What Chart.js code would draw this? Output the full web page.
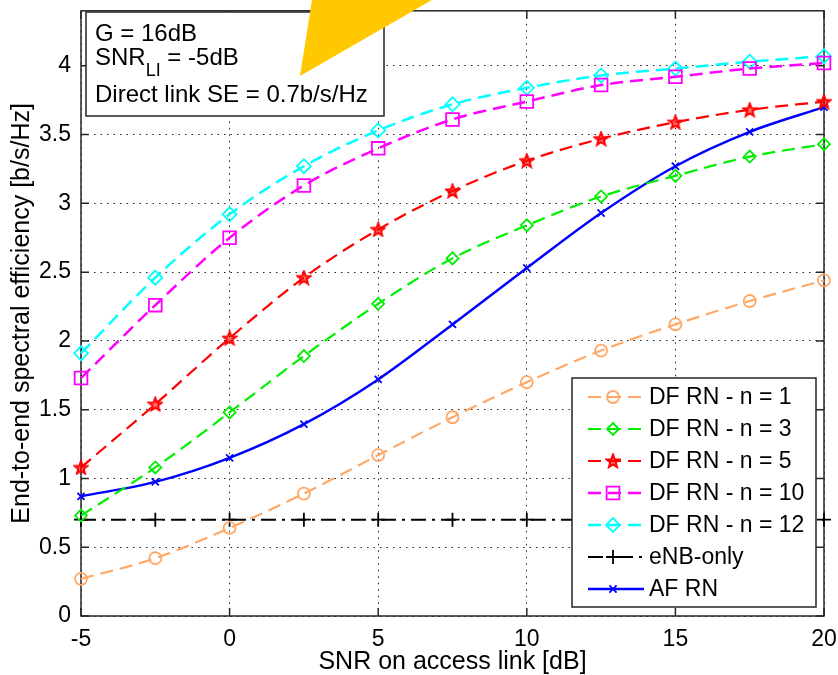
<!DOCTYPE html>
<html>
<head>
<meta charset="utf-8">
<script src="https://cdn.jsdelivr.net/npm/chart.js@4.4.0/dist/chart.umd.min.js"></script>
<style>
  html, body { margin: 0; padding: 0; background: #fff; }
  #wrap { width: 838px; height: 675px; }
</style>
</head>
<body>
<div id="wrap"><canvas id="se-chart" width="838" height="675"></canvas></div>
<script>
// SNR on access link [dB]
const snrAccess = [-5, -2.5, 0, 2.5, 5, 7.5, 10, 12.5, 15, 17.5, 20];

// end-to-end spectral efficiency [b/s/Hz]
const dfN1  = [0.27, 0.42, 0.64, 0.89, 1.17, 1.445, 1.70, 1.93, 2.12, 2.29, 2.44];
const dfN3  = [0.73, 1.08, 1.48, 1.89, 2.27, 2.60, 2.84, 3.05, 3.20, 3.34, 3.43];
const dfN5  = [1.08, 1.54, 2.02, 2.46, 2.81, 3.09, 3.31, 3.47, 3.59, 3.68, 3.74];
const dfN10 = [1.73, 2.26, 2.75, 3.13, 3.40, 3.61, 3.74, 3.86, 3.92, 3.98, 4.02];
const dfN12 = [1.91, 2.46, 2.92, 3.27, 3.53, 3.72, 3.84, 3.93, 3.98, 4.03, 4.07];
const enbOnly = [0.7, 0.7, 0.7, 0.7, 0.7, 0.7, 0.7, 0.7, 0.7, 0.7, 0.7];
const afRn  = [0.87, 0.975, 1.15, 1.395, 1.72, 2.12, 2.53, 2.93, 3.27, 3.52, 3.70];

const xTicks = [-5, 0, 5, 10, 15, 20];
const annotationLines = ['G = 16dB', 'SNR', 'Direct link SE = 0.7b/s/Hz'];

const FONT = '"Liberation Sans", Arial, sans-serif';

// pentagram marker (Chart.js has no 5-point star)
function makeStar(size, color) {
  const c = document.createElement('canvas');
  c.width = size; c.height = size;
  const g = c.getContext('2d');
  const cx = size / 2, cy = size / 2 + 0.5, R = size / 2 - 1.2, r = R * 0.42;
  g.beginPath();
  for (let i = 0; i < 10; i++) {
    const ang = -Math.PI / 2 + i * Math.PI / 5;
    const rad = i % 2 === 0 ? R : r;
    g.lineTo(cx + rad * Math.cos(ang), cy + rad * Math.sin(ang));
  }
  g.closePath();
  g.fillStyle = 'rgba(255,0,0,0.55)';
  g.fill();
  g.strokeStyle = color; g.lineWidth = 2; g.stroke();
  return c;
}

const pts = arr => arr.map((v, i) => ({ x: snrAccess[i], y: v }));

const DASH = [13, 7];

function series(label, data, color, style, radius, width, dash) {
  return {
    label: label,
    data: pts(data),
    borderColor: color,
    backgroundColor: color,
    borderWidth: width,
    borderDash: dash,
    pointStyle: style,
    pointRadius: radius,
    pointBorderColor: color,
    pointBackgroundColor: 'rgba(0,0,0,0)',
    pointBorderWidth: 1.8,
    cubicInterpolationMode: 'monotone',
    clip: false
  };
}

const datasets = [
  series('DF RN - n = 1', dfN1, '#FFA866', 'circle', 6, 2.2, DASH),
  series('DF RN - n = 3', dfN3, '#00EE00', 'rectRot', 6, 2.2, DASH),
  series('DF RN - n = 5', dfN5, '#FF0000', makeStar(16, '#FF0000'), 8, 2.2, DASH),
  series('DF RN - n = 10', dfN10, '#FF00FF', 'rect', 9, 2.5, DASH),
  series('DF RN - n = 12', dfN12, '#00FFFF', 'rectRot', 7, 2.5, DASH),
  series('eNB-only', enbOnly, '#000000', 'cross', 7, 2, [15, 6, 3, 6]),
  series('AF RN', afRn, '#0000FF', 'crossRot', 5, 2.5, [])
];

const framePlugin = {
  id: 'frame',
  beforeDatasetsDraw(chart) {
    const { ctx, chartArea: a, scales: { x, y } } = chart;
    const tl = 8;
    ctx.save();
    ctx.strokeStyle = '#262626';
    ctx.lineWidth = 1.5;
    ctx.strokeRect(a.left, a.top, a.right - a.left, a.bottom - a.top);
    ctx.beginPath();
    x.ticks.forEach(t => {
      const px = x.getPixelForValue(t.value);
      ctx.moveTo(px, a.bottom); ctx.lineTo(px, a.bottom - tl);
      ctx.moveTo(px, a.top); ctx.lineTo(px, a.top + tl);
    });
    y.ticks.forEach(t => {
      const py = y.getPixelForValue(t.value);
      ctx.moveTo(a.left, py); ctx.lineTo(a.left + tl, py);
      ctx.moveTo(a.right, py); ctx.lineTo(a.right - tl, py);
    });
    ctx.stroke();
    ctx.restore();
  }
};

const overlayPlugin = {
  id: 'overlay',
  afterDraw(chart) {
    const { ctx, chartArea: a } = chart;
    ctx.save();
    ctx.fillStyle = '#000';

    // axis titles
    ctx.font = '25px ' + FONT;
    ctx.textAlign = 'center';
    ctx.textBaseline = 'alphabetic';
    ctx.fillText('SNR on access link [dB]', (a.left + a.right) / 2, 669);
    ctx.save();
    ctx.translate(29, (a.top + a.bottom) / 2);
    ctx.rotate(-Math.PI / 2);
    ctx.fillText('End-to-end spectral efficiency [b/s/Hz]', 0, 0);
    ctx.restore();

    // parameter box
    ctx.fillStyle = '#fff';
    ctx.fillRect(86, 12, 298, 104);
    ctx.strokeStyle = '#262626';
    ctx.lineWidth = 1.5;
    ctx.strokeRect(86, 12, 298, 104);
    ctx.fillStyle = '#000';
    ctx.textAlign = 'left';
    ctx.font = '24px ' + FONT;
    ctx.fillText(annotationLines[0], 95, 41);
    ctx.fillText(annotationLines[1], 95, 65);
    const w = ctx.measureText(annotationLines[1]).width;
    ctx.font = '18px ' + FONT;
    ctx.fillText('LI', 95 + w, 76);
    const w2 = ctx.measureText('LI').width;
    ctx.font = '24px ' + FONT;
    ctx.fillText(' = -5dB', 95 + w + w2, 65);
    ctx.fillText(annotationLines[2], 95, 102);

    // legend
    const lx = 572, ly = 378, lw = 244, lh = 229;
    ctx.fillStyle = '#fff';
    ctx.fillRect(lx, ly, lw, lh);
    ctx.strokeRect(lx, ly, lw, lh);
    const rowY = [397, 429, 461, 493, 525, 557, 589];
    chart.data.datasets.forEach((ds, i) => {
      const yy = rowY[i];
      ctx.save();
      ctx.strokeStyle = ds.borderColor;
      ctx.lineWidth = ds.borderWidth;
      ctx.setLineDash(ds.borderDash);
      ctx.beginPath();
      ctx.moveTo(588, yy); ctx.lineTo(644, yy);
      ctx.stroke();
      ctx.setLineDash([]);
      ctx.fillStyle = 'rgba(0,0,0,0)';
      ctx.lineWidth = ds.pointBorderWidth;
      Chart.helpers.drawPoint(ctx, {
        pointStyle: ds.pointStyle, radius: ds.pointRadius, rotation: 0,
        borderWidth: ds.pointBorderWidth
      }, 613, yy);
      ctx.restore();
      ctx.fillStyle = '#000';
      ctx.font = '23px ' + FONT;
      ctx.textBaseline = 'middle';
      ctx.fillText(ds.label, 649, yy + 1);
    });

    // yellow wedge at the top
    ctx.fillStyle = '#FFC800';
    ctx.beginPath();
    ctx.moveTo(312, 0); ctx.lineTo(432, 0); ctx.lineTo(300, 76);
    ctx.closePath();
    ctx.fill();
    ctx.restore();
  }
};

new Chart(document.getElementById('se-chart'), {
  type: 'line',
  data: { datasets: datasets },
  options: {
    responsive: false,
    animation: false,
    devicePixelRatio: 1,
    layout: { padding: { left: 0, right: 14, top: 8, bottom: 0 } },
    plugins: { legend: { display: false }, tooltip: { enabled: false } },
    scales: {
      x: {
        type: 'linear', min: -5, max: 20,
        afterFit: s => { s.height = 59; s.paddingLeft = 0; s.paddingRight = 0; },
        afterBuildTicks: s => { s.ticks = xTicks.map(v => ({ value: v })); },
        grid: { color: '#222', lineWidth: 1, drawTicks: false },
        border: { display: false, dash: [1.5, 5] },
        ticks: { padding: 10, color: '#000', font: { family: FONT, size: 23 } }
      },
      y: {
        type: 'linear', min: 0, max: 4.4,
        afterFit: s => { s.width = 81; s.paddingTop = 0; s.paddingBottom = 0; },
        afterBuildTicks: s => {
          s.ticks = s.ticks.filter(t => Math.abs(t.value * 2 - Math.round(t.value * 2)) < 1e-6 && t.value <= 4);
        },
        grid: { color: '#222', lineWidth: 1, drawTicks: false },
        border: { display: false, dash: [1.5, 5] },
        ticks: {
          stepSize: 0.5, padding: 10, color: '#000', font: { family: FONT, size: 23 },
          callback: v => String(Math.round(v * 10) / 10)
        }
      }
    }
  },
  plugins: [framePlugin, overlayPlugin]
});
</script>
</body>
</html>
